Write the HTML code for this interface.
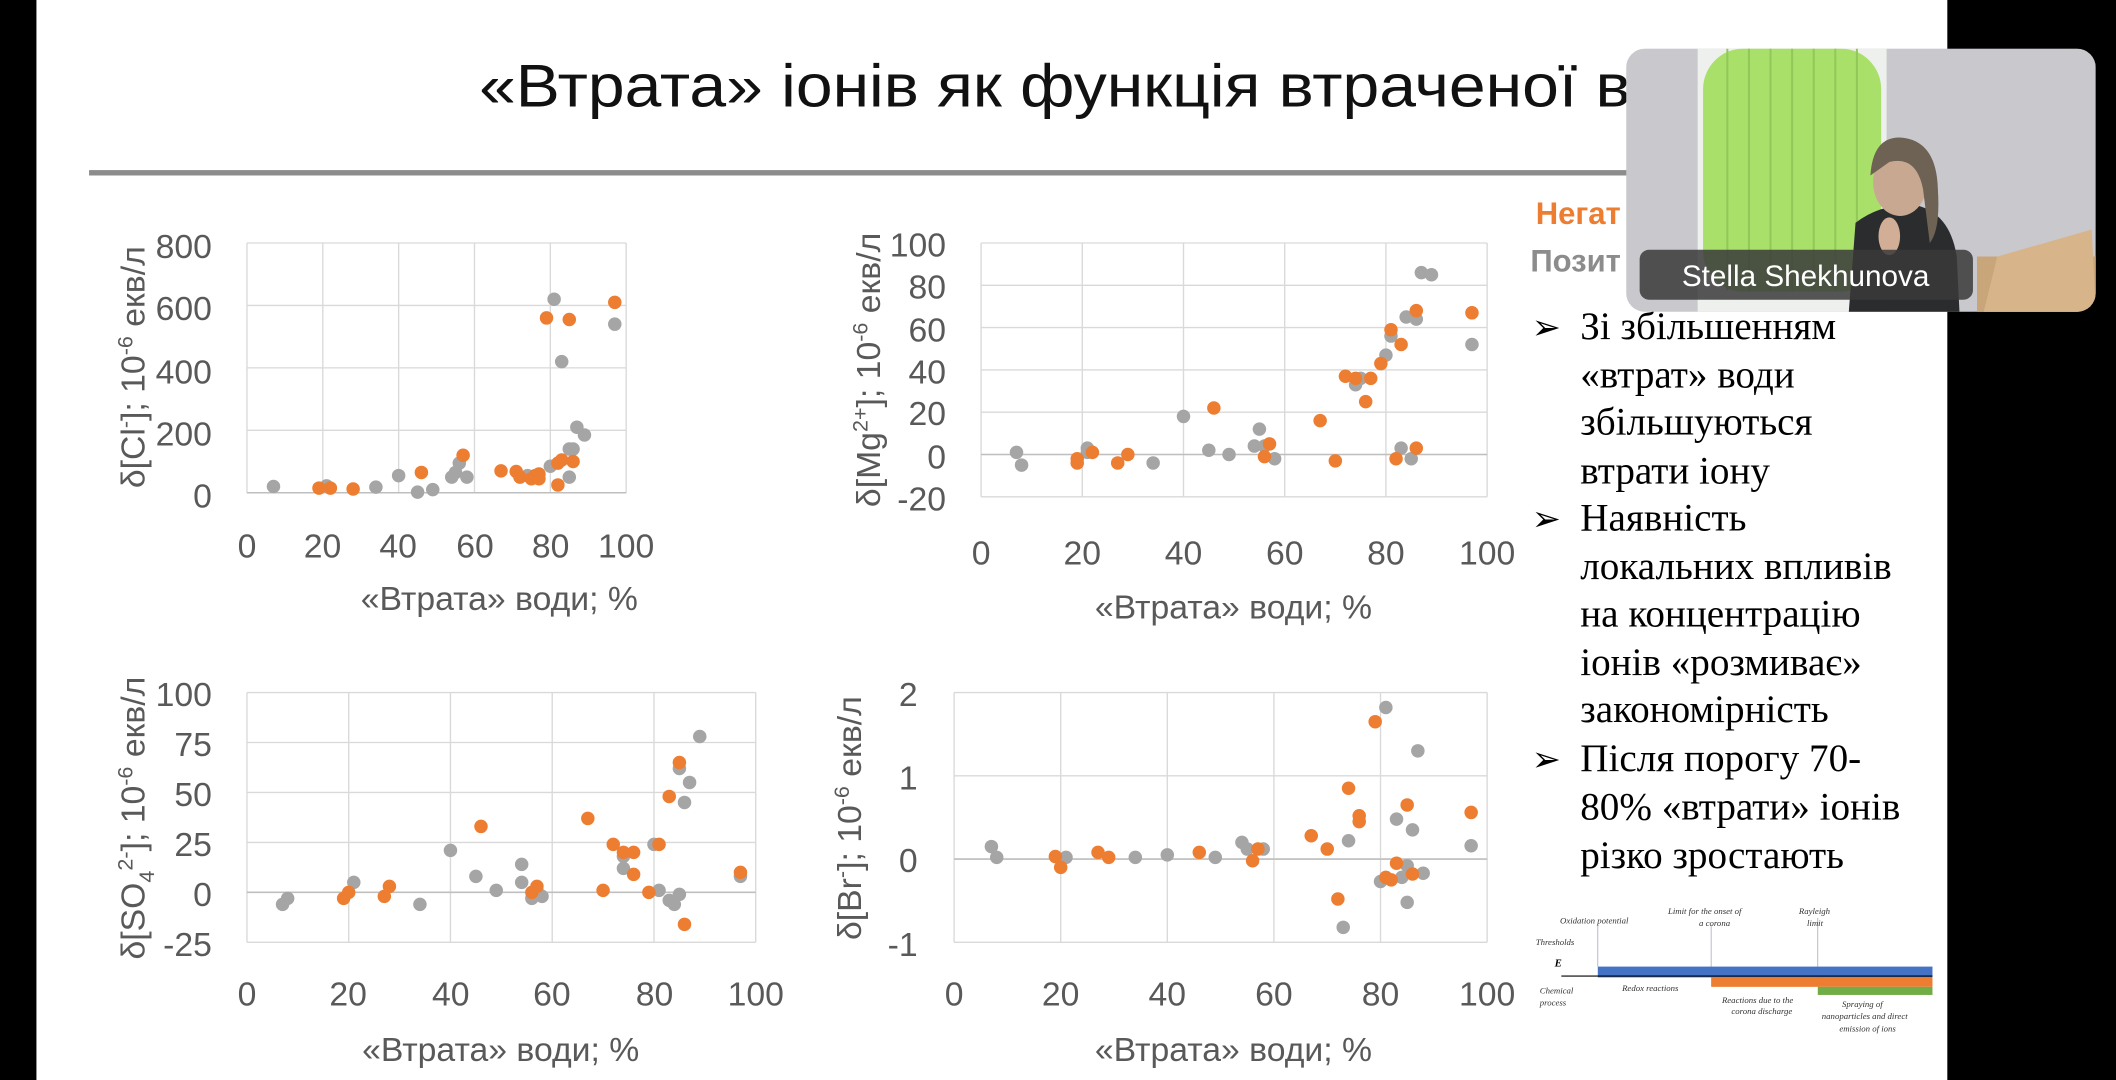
<!DOCTYPE html>
<html><head><meta charset="utf-8">
<style>
html,body{margin:0;padding:0;background:#000;}
svg{display:block;}
.t{font-family:"Liberation Sans","DejaVu Sans",sans-serif;fill:#595959;}
.s{font-family:"Liberation Serif",serif;fill:#000;}
</style></head>
<body>
<svg id="root" width="2116" height="1080" viewBox="0 0 1568 800" preserveAspectRatio="none" xmlns="http://www.w3.org/2000/svg">
<rect x="0" y="0" width="1568" height="800" fill="#000"/>
<rect x="27" y="0" width="1416" height="800" fill="#fff"/>
<text x="355" y="79" font-family="Liberation Sans, sans-serif" font-size="45" fill="#111" textLength="880" lengthAdjust="spacingAndGlyphs">«Втрата» іонів як функція втраченої во</text>
<rect x="66" y="126" width="1150" height="4" fill="#8c8c8c"/>

<g id="charts"></g>

<g class="t" font-size="25">
<text x="157" y="191" text-anchor="end">800</text>
<text x="157" y="237" text-anchor="end">600</text>
<text x="157" y="284" text-anchor="end">400</text>
<text x="157" y="330" text-anchor="end">200</text>
<text x="157" y="376" text-anchor="end">0</text>
<text x="183" y="413" text-anchor="middle">0</text>
<text x="239" y="413" text-anchor="middle">20</text>
<text x="295" y="413" text-anchor="middle">40</text>
<text x="352" y="413" text-anchor="middle">60</text>
<text x="408" y="413" text-anchor="middle">80</text>
<text x="464" y="413" text-anchor="middle">100</text>
<text x="370" y="452" text-anchor="middle">«Втрата» води; %</text>
<text transform="translate(107,272) rotate(-90)" text-anchor="middle">δ[Cl<tspan dy="-9" font-size="16">-</tspan><tspan dy="9">]; 10</tspan><tspan dy="-9" font-size="16">-6</tspan><tspan dy="9"> екв/л</tspan></text>
</g>
<g class="t" font-size="25">
<text x="701" y="190" text-anchor="end">100</text>
<text x="701" y="221" text-anchor="end">80</text>
<text x="701" y="253" text-anchor="end">60</text>
<text x="701" y="284" text-anchor="end">40</text>
<text x="701" y="315" text-anchor="end">20</text>
<text x="701" y="347" text-anchor="end">0</text>
<text x="701" y="378" text-anchor="end">-20</text>
<text x="727" y="418" text-anchor="middle">0</text>
<text x="802" y="418" text-anchor="middle">20</text>
<text x="877" y="418" text-anchor="middle">40</text>
<text x="952" y="418" text-anchor="middle">60</text>
<text x="1027" y="418" text-anchor="middle">80</text>
<text x="1102" y="418" text-anchor="middle">100</text>
<text x="914" y="458" text-anchor="middle">«Втрата» води; %</text>
<text transform="translate(652,274) rotate(-90)" text-anchor="middle">δ[Mg<tspan dy="-9" font-size="16">2+</tspan><tspan dy="9">]; 10</tspan><tspan dy="-9" font-size="16">-6</tspan><tspan dy="9"> екв/л</tspan></text>
</g>
<g class="t" font-size="25">
<text x="157" y="523" text-anchor="end">100</text>
<text x="157" y="560" text-anchor="end">75</text>
<text x="157" y="597" text-anchor="end">50</text>
<text x="157" y="634" text-anchor="end">25</text>
<text x="157" y="671" text-anchor="end">0</text>
<text x="157" y="708" text-anchor="end">-25</text>
<text x="183" y="745" text-anchor="middle">0</text>
<text x="258" y="745" text-anchor="middle">20</text>
<text x="334" y="745" text-anchor="middle">40</text>
<text x="409" y="745" text-anchor="middle">60</text>
<text x="485" y="745" text-anchor="middle">80</text>
<text x="560" y="745" text-anchor="middle">100</text>
<text x="371" y="786" text-anchor="middle">«Втрата» води; %</text>
<text transform="translate(107,606) rotate(-90)" text-anchor="middle">δ[SO<tspan dy="7" font-size="16">4</tspan><tspan dy="-16" font-size="16">2-</tspan><tspan dy="9">]; 10</tspan><tspan dy="-9" font-size="16">-6</tspan><tspan dy="9"> екв/л</tspan></text>
</g>
<g class="t" font-size="25">
<text x="680" y="523" text-anchor="end">2</text>
<text x="680" y="585" text-anchor="end">1</text>
<text x="680" y="646" text-anchor="end">0</text>
<text x="680" y="708" text-anchor="end">-1</text>
<text x="707" y="745" text-anchor="middle">0</text>
<text x="786" y="745" text-anchor="middle">20</text>
<text x="865" y="745" text-anchor="middle">40</text>
<text x="944" y="745" text-anchor="middle">60</text>
<text x="1023" y="745" text-anchor="middle">80</text>
<text x="1102" y="745" text-anchor="middle">100</text>
<text x="914" y="786" text-anchor="middle">«Втрата» води; %</text>
<text transform="translate(638,606) rotate(-90)" text-anchor="middle">δ[Br<tspan dy="-9" font-size="16">-</tspan><tspan dy="9">]; 10</tspan><tspan dy="-9" font-size="16">-6</tspan><tspan dy="9"> екв/л</tspan></text>
</g>

<text x="1138" y="166" font-family="Liberation Sans, sans-serif" font-weight="bold" font-size="23" fill="#ed7d31">Негат</text>
<text x="1134" y="201" font-family="Liberation Sans, sans-serif" font-weight="bold" font-size="23" fill="#8c8c8c">Позит</text>
<g class="s" font-size="29">
<text x="1135" y="251" font-size="26">➢</text>
<text x="1171" y="251">Зі збільшенням</text>
<text x="1171" y="287">«втрат» води</text>
<text x="1171" y="322">збільшуються</text>
<text x="1171" y="358">втрати іону</text>
<text x="1135" y="393" font-size="26">➢</text>
<text x="1171" y="393">Наявність</text>
<text x="1171" y="429">локальних впливів</text>
<text x="1171" y="464">на концентрацію</text>
<text x="1171" y="500">іонів «розмиває»</text>
<text x="1171" y="535">закономірність</text>
<text x="1135" y="571" font-size="26">➢</text>
<text x="1171" y="571">Після порогу 70-</text>
<text x="1171" y="607">80% «втрати» іонів</text>
<text x="1171" y="643">різко зростають</text>
</g>

<g font-family="Liberation Serif, serif" font-style="italic" font-size="6.5" fill="#333">
<line x1="1184" y1="685" x2="1184" y2="716" stroke="#aab" stroke-width="0.6"/>
<line x1="1268" y1="685" x2="1268" y2="724" stroke="#aab" stroke-width="0.6"/>
<line x1="1347" y1="680" x2="1347" y2="724" stroke="#aab" stroke-width="0.6"/>
<rect x="1184" y="716" width="248" height="8" fill="#4472c4"/>
<rect x="1268" y="724" width="164" height="7" fill="#ed7d31"/>
<rect x="1347" y="731" width="85" height="6" fill="#70ad47"/>
<line x1="1157" y1="723" x2="1432" y2="723" stroke="#000" stroke-width="0.8"/>
<text x="1156" y="684">Oxidation potential</text>
<text x="1236" y="677">Limit for the onset of</text>
<text x="1259" y="686">a corona</text>
<text x="1333" y="677">Rayleigh</text>
<text x="1339" y="686">limit</text>
<text x="1138" y="700">Thresholds</text>
<text x="1152" y="716" font-weight="bold" font-size="8" fill="#000">E</text>
<text x="1141" y="736">Chemical</text>
<text x="1141" y="745">process</text>
<text x="1202" y="734">Redox reactions</text>
<text x="1276" y="743">Reactions due to  the</text>
<text x="1283" y="751">corona discharge</text>
<text x="1365" y="746">Spraying of</text>
<text x="1350" y="755">nanoparticles and direct</text>
<text x="1363" y="764">emission of ions</text>
</g>

<defs><clipPath id="vc"><rect x="1205" y="36" width="348" height="195" rx="14"/></clipPath></defs>
<g clip-path="url(#vc)">
<rect x="1205" y="36" width="348" height="195" fill="#c9c9cd"/>
<rect x="1258" y="36" width="140" height="195" fill="#eef0ee"/>
<rect x="1262" y="36" width="132" height="180" fill="#a9e06a" rx="30"/>
<g stroke="#92c85a" stroke-width="1.5">
<line x1="1280" y1="36" x2="1280" y2="215"/><line x1="1296" y1="36" x2="1296" y2="215"/><line x1="1312" y1="36" x2="1312" y2="215"/><line x1="1328" y1="36" x2="1328" y2="215"/><line x1="1344" y1="36" x2="1344" y2="215"/><line x1="1360" y1="36" x2="1360" y2="215"/><line x1="1376" y1="36" x2="1376" y2="215"/>
</g>
<rect x="1465" y="190" width="90" height="45" fill="#c9a57a"/>
<path d="M1470 231 L1480 190 L1550 170 L1553 231 Z" fill="#d8b48a"/>
<path d="M1375 165 Q1395 150 1420 152 Q1445 158 1450 190 L1452 231 L1370 231 Z" fill="#2a2c2e"/>
<ellipse cx="1408" cy="135" rx="20" ry="25" fill="#c9a892"/>
<path d="M1386 130 Q1388 100 1410 102 Q1435 105 1436 140 Q1438 170 1430 180 L1425 140 Q1420 115 1400 120 Z" fill="#6d6253"/>
<ellipse cx="1400" cy="175" rx="8" ry="14" fill="#d2ae96"/>
<rect x="1215" y="185" width="247" height="37" rx="7" fill="#3a3a3a" fill-opacity="0.85"/>
<text x="1338" y="212" text-anchor="middle" font-family="Liberation Sans, sans-serif" font-size="22" fill="#fff">Stella Shekhunova</text>
</g>
</svg>
<script>
var NS="http://www.w3.org/2000/svg",G=document.getElementById("charts");
function el(n,a){var e=document.createElementNS(NS,n);for(var k in a)e.setAttribute(k,a[k]);G.appendChild(e);return e;}
function chart(c){
 var X=function(v){return c.x0+(c.x1-c.x0)*v/100;},Y=function(v){return c.y1-(c.y1-c.y0)*(v-c.lo)/(c.hi-c.lo);};
 for(var i=0;i<=5;i++){var x=X(i*20);el("line",{x1:x,y1:c.y0,x2:x,y2:c.y1,stroke:"#d9d9d9","stroke-width":1});}
 for(var v=c.lo;v<=c.hi+1e-9;v+=c.st){var y=Y(v);el("line",{x1:c.x0,y1:y,x2:c.x1,y2:y,stroke:"#d9d9d9","stroke-width":1});}
 var y0=Y(0);el("line",{x1:c.x0,y1:y0,x2:c.x1,y2:y0,stroke:"#bfbfbf","stroke-width":1.2});
 c.g.forEach(function(p){el("circle",{cx:X(p[0]),cy:Y(p[1]),r:5,fill:"#a5a5a5"});});
 c.o.forEach(function(p){el("circle",{cx:X(p[0]),cy:Y(p[1]),r:5,fill:"#ed7d31"});});
}
chart({x0:183,x1:464,y0:180,y1:365,lo:0,hi:800,st:200,
g:[[7,20],[21,22],[34,18],[40,55],[45,2],[49,10],[54,50],[55,65],[56,95],[58,50],[74,55],[80,85],[81,620],[83,420],[85,140],[85,50],[86,140],[87,210],[89,185],[97,540]],
o:[[19,15],[22,15],[28,12],[46,65],[57,120],[67,70],[71,68],[72,50],[75,45],[76,55],[77,60],[77,45],[79,560],[82,95],[83,105],[82,25],[85,555],[86,100],[97,610]]});
chart({x0:727,x1:1102,y0:180,y1:368,lo:-20,hi:100,st:20,
g:[[7,1],[8,-5],[21,3],[21,1],[34,-4],[40,18],[45,2],[49,0],[54,4],[55,12],[56,4],[58,-2],[74,33],[75,36],[80,47],[81,56],[83,3],[84,65],[85,-2],[86,64],[87,86],[89,85],[97,52]],
o:[[19,-4],[19,-2],[22,1],[27,-4],[29,0],[46,22],[56,-1],[57,5],[67,16],[70,-3],[72,37],[74,36],[76,25],[77,36],[79,43],[81,59],[82,-2],[83,52],[86,3],[86,68],[97,67]]});
chart({x0:183,x1:560,y0:513,y1:698,lo:-25,hi:100,st:25,
g:[[7,-6],[8,-3],[21,5],[34,-6],[40,21],[45,8],[49,1],[54,5],[54,14],[56,-3],[57,1],[58,-2],[74,18],[74,12],[80,24],[81,1],[83,-4],[84,-6],[85,-1],[85,62],[86,45],[87,55],[89,78],[97,8]],
o:[[19,-3],[20,0],[27,-2],[28,3],[46,33],[56,0],[57,3],[67,37],[70,1],[72,24],[74,20],[76,20],[76,9],[79,0],[81,24],[83,48],[85,65],[86,-16],[97,10]]});
chart({x0:707,x1:1102,y0:513,y1:698,lo:-1,hi:2,st:1,
g:[[7,0.15],[8,0.02],[21,0.02],[34,0.02],[40,0.05],[49,0.02],[54,0.2],[55,0.12],[58,0.12],[73,-0.82],[74,0.22],[80,-0.27],[81,1.82],[83,0.48],[84,-0.22],[85,-0.52],[85,-0.08],[86,0.35],[87,1.3],[88,-0.17],[97,0.16]],
o:[[19,0.03],[20,-0.1],[27,0.08],[29,0.02],[46,0.08],[56,-0.02],[57,0.12],[67,0.28],[70,0.12],[72,-0.48],[74,0.85],[76,0.52],[76,0.45],[79,1.65],[81,-0.22],[82,-0.25],[83,-0.05],[85,0.65],[86,-0.18],[97,0.56]]});
</script>
</body></html>
